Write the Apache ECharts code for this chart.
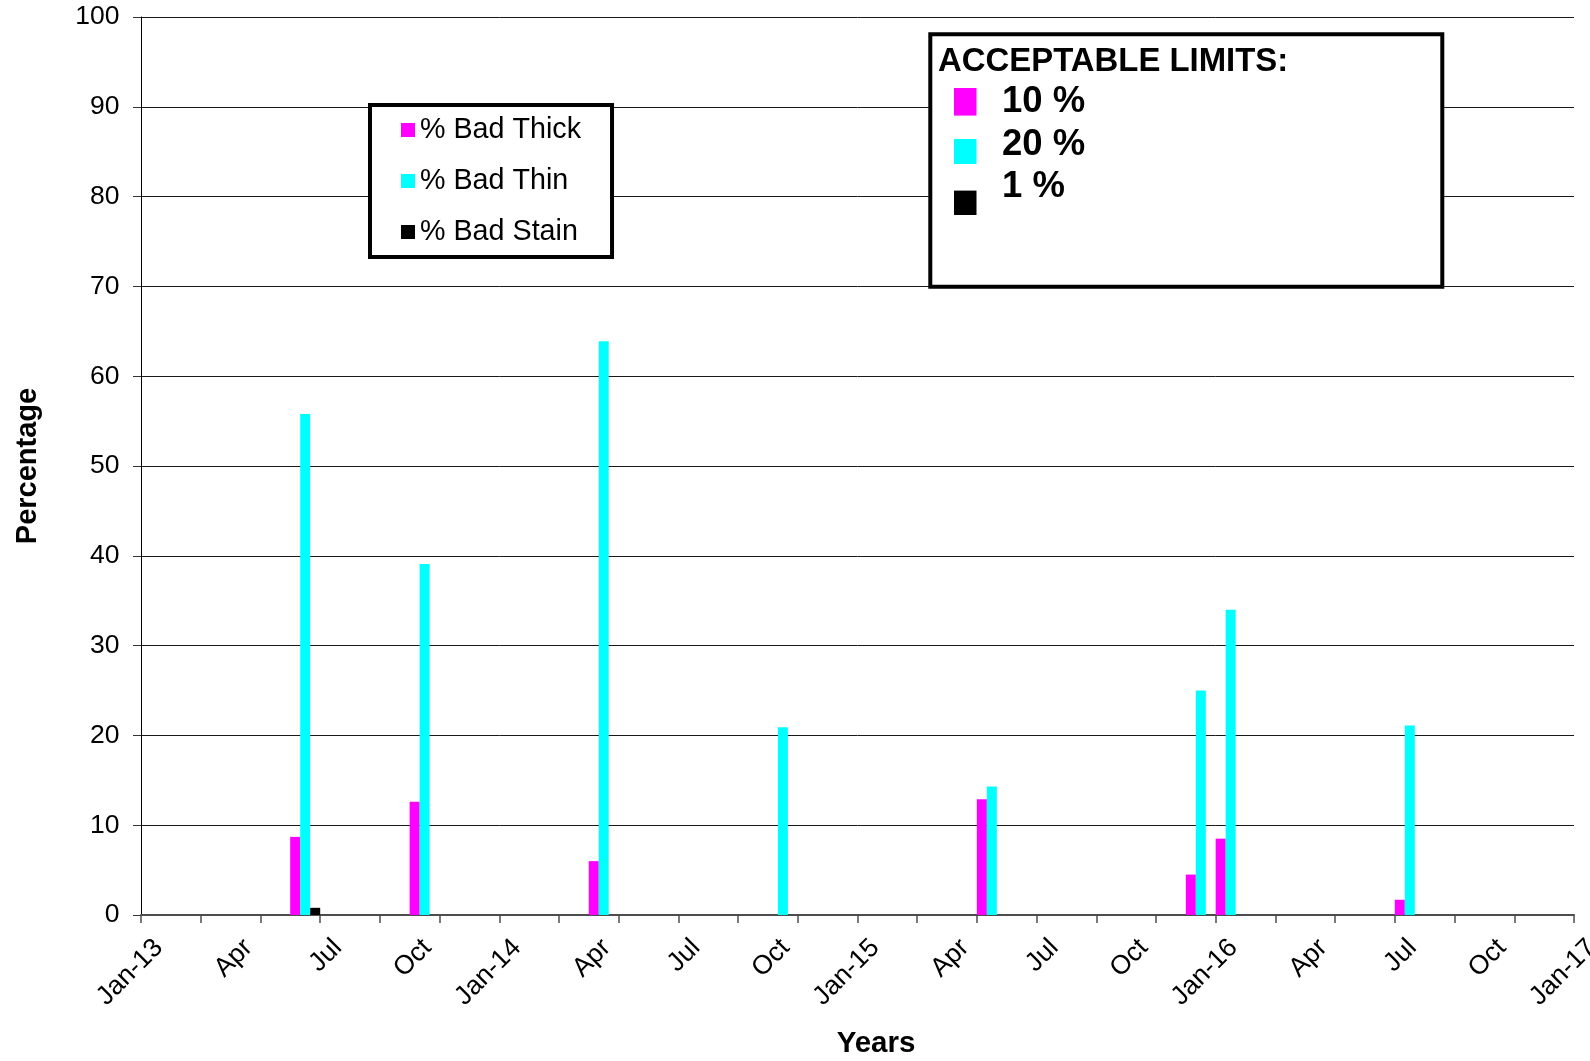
<!DOCTYPE html>
<html><head><meta charset="utf-8">
<script src="https://cdn.jsdelivr.net/npm/echarts@6/dist/echarts.min.js"></script>
<style>html,body{margin:0;padding:0;background:#fff}#c{width:1590px;height:1061px}</style>
</head><body><div id="c"></div>
<script>
// ---- data ----
const dates = ['2013-06','2013-10','2014-04','2014-10','2015-05','2015-12','2016-01','2016-07'];
const badThick = [8.7, 12.6, 6.0, 0, 12.9, 4.5, 8.5, 1.7];
const badThin  = [55.8, 39.1, 63.9, 20.9, 14.3, 25.0, 34.0, 21.1];
const badStain = [0.8, 0, 0, 0, 0, 0, 0, 0];
const tickLabels = ['Jan-13','Apr','Jul','Oct','Jan-14','Apr','Jul','Oct','Jan-15','Apr','Jul','Oct','Jan-16','Apr','Jul','Oct','Jan-17'];
const seriesNames = ['% Bad Thick','% Bad Thin','% Bad Stain'];
const limitTitle = 'ACCEPTABLE LIMITS:';
const limitLabels = ['10 %','20 %','1 %'];
const colors = ['#FF00FF','#00FFFF','#000000'];

const FONT = '"Liberation Sans", Arial, sans-serif';
const START_YEAR = 2013;
function monthSlot(d){ const p = d.split('-').map(Number); return (p[0]-START_YEAR)*12 + (p[1]-1) + 0.5; }
const pts = arr => arr.map((v,i)=>[monthSlot(dates[i]), v]);

const chart = echarts.init(document.getElementById('c'), null, {renderer:'canvas'});

const graphics = [
  {type:'rect', shape:{x:930.3, y:34.3, width:512, height:252.4}, style:{fill:'#fff', stroke:'#000', lineWidth:4}, z:10},
  {type:'text', x:938, y:62, style:{text:limitTitle, font:'bold 32.9px ' + FONT, fill:'#000', verticalAlign:'middle', textVerticalAlign:'middle'}, z:11}
];
const sqY = [88, 139, 190.6], sqH = [27.6, 25, 24.4], txtY = [101.7, 145, 187];
limitLabels.forEach((t,i)=>{
  graphics.push({type:'rect', shape:{x:954, y:sqY[i], width:22.5, height:sqH[i]}, style:{fill:colors[i]}, z:11});
  graphics.push({type:'text', x:1002, y:txtY[i], style:{text:t, font:'bold 36.5px ' + FONT, fill:'#000', verticalAlign:'middle', textVerticalAlign:'middle'}, z:11});
});

const option = {
  animation:false,
  backgroundColor:'#fff',
  textStyle:{fontFamily:FONT},
  grid:{left:141, right:16, top:17, bottom:146, containLabel:false, outerBoundsMode:'none'},
  legend:{
    show:true, orient:'vertical', left:370, top:105,
    padding:[10,31,10,31], itemWidth:14, itemHeight:14, itemGap:21,
    borderColor:'#000', borderWidth:4, backgroundColor:'#fff',
    icon:'rect', selectedMode:false,
    textStyle:{fontSize:28.7, lineHeight:30, color:'#000', fontFamily:FONT},
    data:seriesNames
  },
  xAxis:[
    {type:'value', min:0, max:48, interval:2, position:'bottom',
     axisLine:{show:true, onZero:false, lineStyle:{color:'#4d4d4d', width:2}},
     axisTick:{show:true, inside:false, length:8, lineStyle:{color:'#4d4d4d', width:1.5}},
     axisLabel:{show:false}, splitLine:{show:false},
     name:'Years', nameLocation:'middle', nameGap:114,
     nameTextStyle:{fontSize:29.5, fontWeight:'bold', color:'#000', fontFamily:FONT, padding:[0,0,0,37]}
    },
    {type:'value', min:0, max:48, interval:3, position:'bottom',
     axisLine:{show:false}, axisTick:{show:false}, splitLine:{show:false},
     axisLabel:{show:true, rotate:45, margin:11, align:'right', verticalAlign:'top', lineHeight:50,
       fontSize:26.5, color:'#000', fontFamily:FONT,
       showMinLabel:true, showMaxLabel:true,
       formatter:v => tickLabels[Math.round(v/3)] || ''}
    }
  ],
  yAxis:{type:'value', min:0, max:100, interval:10,
    axisLine:{show:true, lineStyle:{color:'#000', width:1}},
    axisTick:{show:true, inside:false, length:8, lineStyle:{color:'#333', width:1}},
    axisLabel:{fontSize:26.5, margin:21.5, color:'#000', fontFamily:FONT},
    splitLine:{show:true, lineStyle:{color:'#1a1a1a', width:1}},
    name:'Percentage', nameLocation:'middle', nameGap:99, nameRotate:90,
    nameTextStyle:{fontSize:29, fontWeight:'bold', color:'#000', fontFamily:FONT}
  },
  series:[
    {name:seriesNames[0], type:'bar', xAxisIndex:0, data:pts(badThick), barWidth:10, barGap:'0%', itemStyle:{color:colors[0]}, emphasis:{disabled:true}},
    {name:seriesNames[1], type:'bar', xAxisIndex:0, data:pts(badThin), barWidth:10, barGap:'0%', itemStyle:{color:colors[1]}, emphasis:{disabled:true}},
    {name:seriesNames[2], type:'bar', xAxisIndex:0, data:pts(badStain), barWidth:10, barGap:'0%', itemStyle:{color:colors[2]}, emphasis:{disabled:true}}
  ],
  graphic:graphics
};
chart.setOption(option);
</script></body></html>
